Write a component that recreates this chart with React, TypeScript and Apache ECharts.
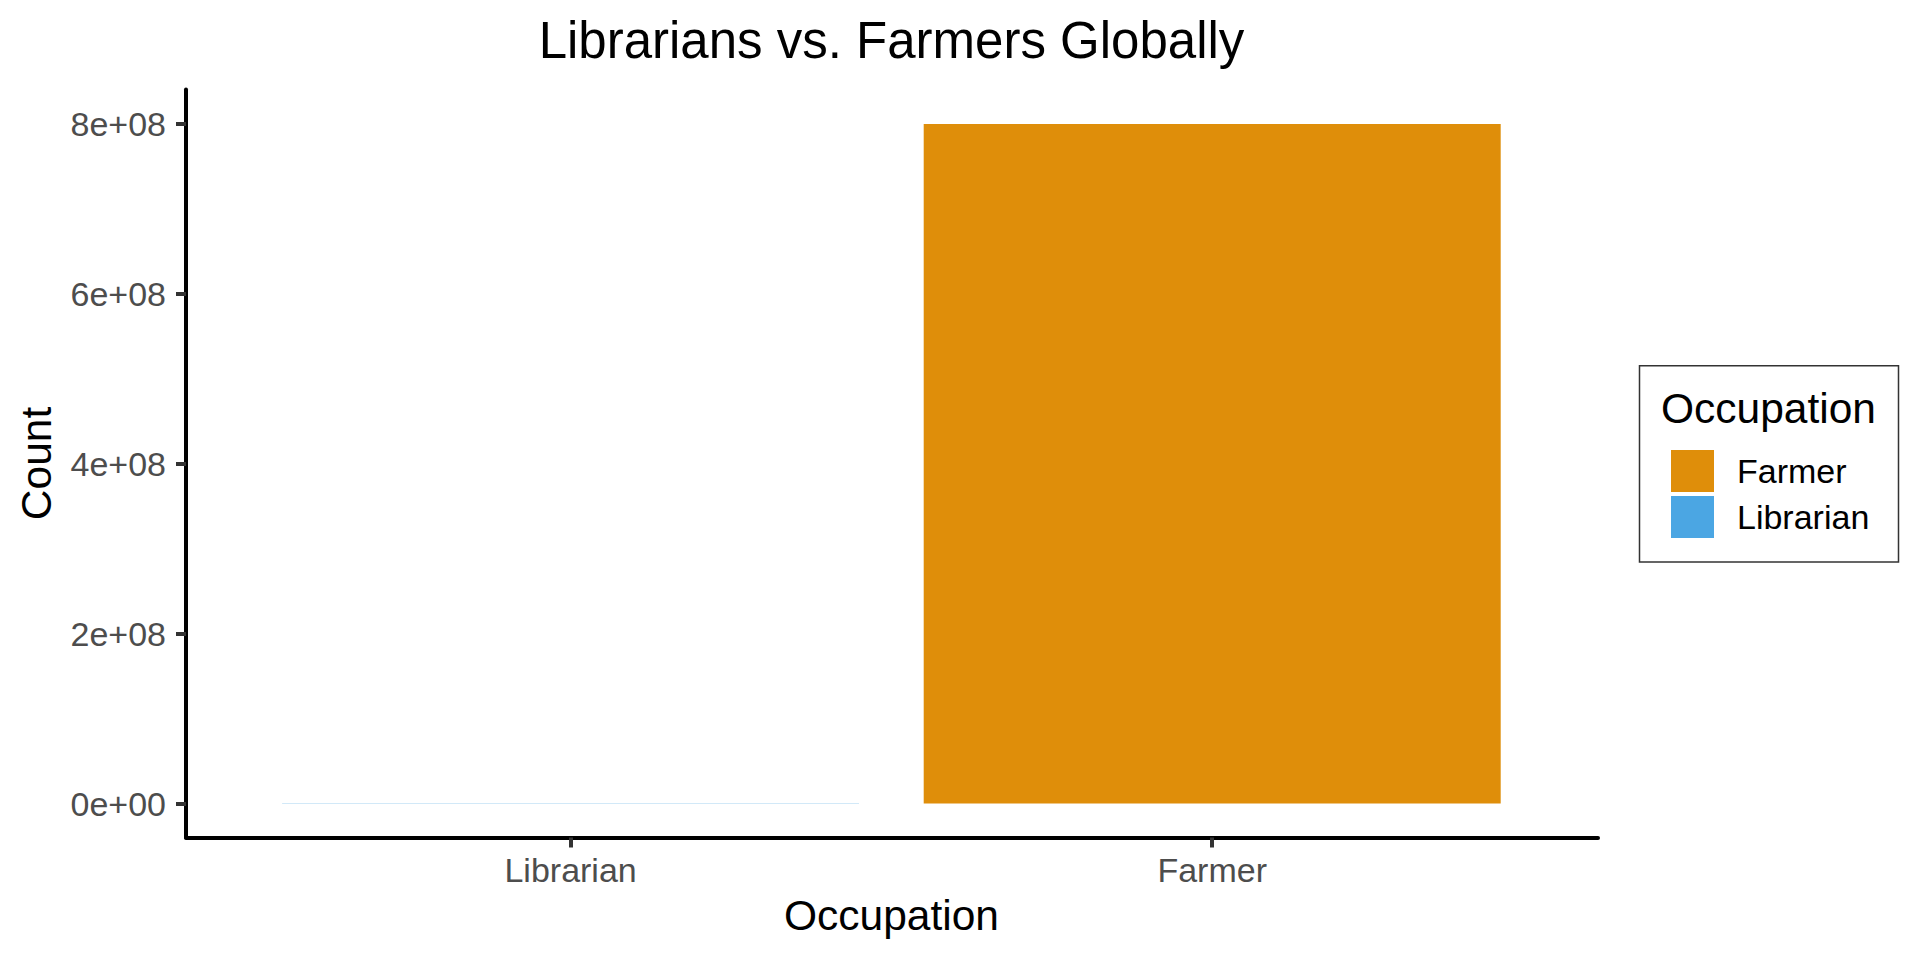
import React, { useEffect, useRef } from "react";
import * as echarts from "echarts";

// ---- data ----
const categories = ["Librarian", "Farmer"];
const counts = [350000, 800000000];
const legendOrder = ["Farmer", "Librarian"];
const seriesColors: Record<string, string> = { Farmer: "#DF8E0A", Librarian: "#4BA6E3" };
const yTicks = [0, 200000000, 400000000, 600000000, 800000000];
const yMin = -40000000;
const yMax = 800000000;

const chartTitle = "Librarians vs. Farmers Globally";
const xTitle = "Occupation";
const yTitle = "Count";
const legendTitle = "Occupation";

const FONT = '"Liberation Sans", Arial, Helvetica, sans-serif';

function sci(v: number): string {
  if (v === 0) return "0e+00";
  const e = Math.floor(Math.log10(Math.abs(v)));
  const m = v / Math.pow(10, e);
  return `${+m.toFixed(2)}e${e < 0 ? "-" : "+"}${String(Math.abs(e)).padStart(2, "0")}`;
}

export default function App() {
  const ref = useRef<HTMLDivElement>(null);

  useEffect(() => {
    if (!ref.current) return;
    const chart = echarts.init(ref.current, null, { renderer: "svg" });

    const series = categories.map((name) => ({
      name,
      type: "bar" as const,
      xAxisIndex: 0,
      yAxisIndex: 0,
      barWidth: 577,
      barGap: "-100%",
      itemStyle: { color: seriesColors[name] },
      data: categories.map((c, i) => (c === name ? counts[i] : "-")),
    }));

    const option: any = {
      animation: false,
      backgroundColor: "#ffffff",
      textStyle: { fontFamily: FONT },
      grid: [
        { left: 249.8, width: 1283.2, top: 124, bottom: 122.5, containLabel: false },
        { left: 186, right: 322, top: 89.4, bottom: 122.5, containLabel: false },
      ],
      xAxis: [
        {
          type: "category",
          gridIndex: 0,
          data: categories,
          boundaryGap: true,
          axisLine: { show: false, onZero: false },
          axisTick: { show: true, alignWithLabel: true, length: 10, lineStyle: { color: "#333333", width: 4 } },
          axisLabel: { fontSize: 34, lineHeight: 34, color: "#4D4D4D", margin: 15, fontFamily: FONT },
          splitLine: { show: false },
        },
        {
          type: "value",
          gridIndex: 1,
          min: 0,
          max: 1,
          axisLine: { show: true, onZero: false, lineStyle: { color: "#000000", width: 4 } },
          axisTick: { show: false },
          axisLabel: { show: false },
          splitLine: { show: false },
        },
      ],
      yAxis: [
        {
          type: "value",
          gridIndex: 0,
          min: yMin,
          max: yMax,
          offset: 63.8,
          axisLine: { show: false, onZero: false },
          axisTick: {
            show: true,
            length: 10,
            customValues: yTicks,
            lineStyle: { color: "#333333", width: 4 },
          },
          axisLabel: {
            fontSize: 34,
            color: "#4D4D4D",
            margin: 20,
            fontFamily: FONT,
            customValues: yTicks,
            formatter: (v: number) => sci(v),
          },
          splitLine: { show: false },
        },
        {
          type: "value",
          gridIndex: 1,
          min: 0,
          max: 1,
          axisLine: { show: true, onZero: false, lineStyle: { color: "#000000", width: 4 } },
          axisTick: { show: false },
          axisLabel: { show: false },
          splitLine: { show: false },
        },
      ],
      legend: {
        data: legendOrder,
        orient: "vertical",
        left: 1671,
        top: 450,
        padding: 0,
        itemWidth: 43,
        itemHeight: 42,
        itemGap: 4,
        icon: "rect",
        selectedMode: false,
        textStyle: { fontSize: 34, color: "#000000", fontFamily: FONT, padding: [0, 0, 0, 18] },
      },
      graphic: [
        {
          type: "text",
          x: 891.5,
          y: 40,
          style: {
            text: chartTitle,
            fontSize: 51,
            fontFamily: FONT,
            fill: "#000000",
            align: "center",
            verticalAlign: "middle",
            textAlign: "center",
            textVerticalAlign: "middle",
          },
        },
        {
          type: "text",
          x: 891.5,
          y: 915.3,
          style: {
            text: xTitle,
            fontSize: 42.5,
            fontFamily: FONT,
            fill: "#000000",
            align: "center",
            verticalAlign: "middle",
            textAlign: "center",
            textVerticalAlign: "middle",
          },
        },
        {
          type: "text",
          x: 36,
          y: 463.5,
          rotation: Math.PI / 2,
          style: {
            text: yTitle,
            fontSize: 42.5,
            fontFamily: FONT,
            fill: "#000000",
            align: "center",
            verticalAlign: "middle",
            textAlign: "center",
            textVerticalAlign: "middle",
          },
        },
        {
          type: "rect",
          shape: { x: 1639.5, y: 365.7, width: 259, height: 196.3 },
          style: { fill: "none", stroke: "#333333", lineWidth: 1.5 },
        },
        {
          type: "text",
          x: 1661,
          y: 408,
          style: {
            text: legendTitle,
            fontSize: 42.5,
            fontFamily: FONT,
            fill: "#000000",
            align: "left",
            verticalAlign: "middle",
            textAlign: "left",
            textVerticalAlign: "middle",
          },
        },
      ],
      series,
    };

    chart.setOption(option);
    return () => chart.dispose();
  }, []);

  return (
    <div
      ref={ref}
      style={{ position: "absolute", left: 0, top: 0, width: 1920, height: 960, background: "#ffffff" }}
    />
  );
}
